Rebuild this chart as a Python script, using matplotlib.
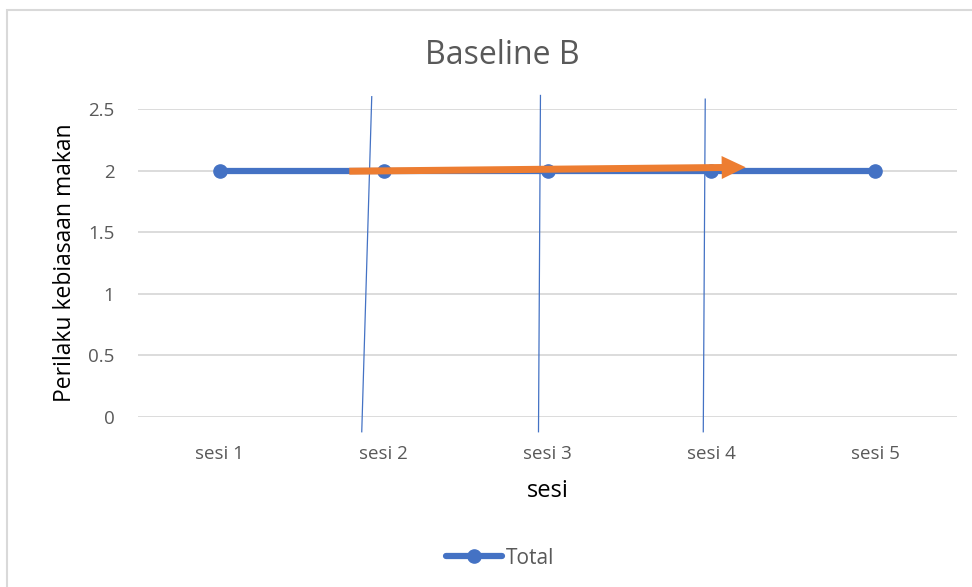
import matplotlib
matplotlib.use("Agg")
import matplotlib.pyplot as plt
from matplotlib.patches import Rectangle, FancyArrow

plt.rcParams['font.family'] = ['Open Sans', 'DejaVu Sans']

# session scores
sessions = ["sesi 1", "sesi 2", "sesi 3", "sesi 4", "sesi 5"]
total = [2, 2, 2, 2, 2]
y_ticks = [0, 0.5, 1, 1.5, 2, 2.5]
y_tick_labels = ["0", "0.5", "1", "1.5", "2", "2.5"]

# hand-drawn phase lines (x top, x bottom, y top, y bottom) in data units
phase_x_top = [1.927, 2.957, 3.963]
phase_x_bot = [1.866, 2.945, 3.951]
phase_y_top = [2.60, 2.61, 2.58]
phase_y_bot = [-0.12, -0.12, -0.12]

# trend arrow (start and tip) in data units
trend_start = (1.79, 1.995)
trend_end = (4.21, 2.027)

BLUE = "#4472C4"
ORANGE = "#ED7D31"
GREY_TXT = "#595959"
GRID = "#D9D9D9"

fig = plt.figure(figsize=(9.72, 5.87), dpi=100)
ax = fig.add_axes([138 / 972, 170 / 587, (957 - 138) / 972, (417 - 109) / 587])

# chart border
fig.patches.append(Rectangle((7 / 972, -0.05), 1.0, 577 / 587 + 0.05,
                             transform=fig.transFigure, fill=False,
                             edgecolor=GRID, linewidth=1.5))

x = list(range(1, len(sessions) + 1))
ax.plot(x, total, color=BLUE, linewidth=4.5, marker="o", markersize=9.5,
        label="Total", zorder=3, solid_capstyle="round")

ax.set_xlim(0.5, 5.5)
ax.set_ylim(0, 2.5)
ax.set_yticks(y_ticks)
ax.set_yticklabels(y_tick_labels)
ax.set_xticks(x)
ax.set_xticklabels(sessions)
ax.tick_params(length=0, labelsize=13.5, labelcolor=GREY_TXT)
ax.tick_params(axis="y", pad=17)
ax.tick_params(axis="x", pad=20)
ax.grid(axis="y", color=GRID, linewidth=1.3)
ax.set_axisbelow(True)
for s in ax.spines.values():
    s.set_visible(False)

fig.text(502 / 972, 1 - 56 / 587, "Baseline B", fontsize=23, color=GREY_TXT,
         ha="center", va="center")
ax.set_ylabel("Perilaku kebiasaan makan", fontsize=16.5, color="#000000", labelpad=8)
ax.set_xlabel("sesi", fontsize=17, color="#000000", labelpad=12)

for xt, xb, yt, yb in zip(phase_x_top, phase_x_bot, phase_y_top, phase_y_bot):
    ax.plot([xt, xb], [yt, yb], color=BLUE, linewidth=0.9, clip_on=False, zorder=4)

# trend arrow drawn in pixel space so the head keeps its shape
p0 = ax.transData.transform(trend_start)
p1 = ax.transData.transform(trend_end)
arrow = FancyArrow(p0[0], p0[1], p1[0] - p0[0], p1[1] - p0[1], width=7,
                   head_width=23, head_length=24, length_includes_head=True,
                   color=ORANGE, transform=None, zorder=5, linewidth=0)
fig.patches.append(arrow)

leg = ax.legend(loc="center", bbox_to_anchor=(500 / 972, 29 / 587),
                bbox_transform=fig.transFigure, frameon=False, fontsize=15,
                handlelength=2.7, handletextpad=0.2)
for t in leg.get_texts():
    t.set_color(GREY_TXT)

fig.savefig("out.png", dpi=100)
